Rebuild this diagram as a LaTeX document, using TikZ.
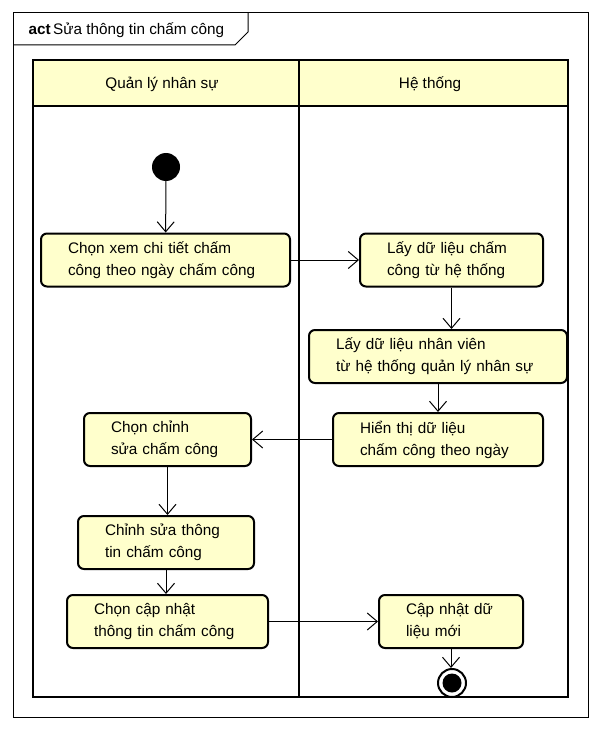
\documentclass[tikz,border=0pt]{standalone}
\usepackage{fontspec}
\setmainfont{Liberation Sans}
\usetikzlibrary{arrows.meta}

\definecolor{actfill}{RGB}{255,255,204}

\tikzset{
  action/.style={draw, line width=2pt, rounded corners=6pt, fill=actfill,
    align=left, inner xsep=27pt, inner ysep=0pt, minimum height=53pt,
    font=\fontsize{15.3}{22}\selectfont},
  lanehead/.style={font=\fontsize{15.3}{18}\selectfont},
  flow/.style={line width=1pt, -{Straight Barb[length=10pt,width=17pt,line width=1pt]}}
}

\begin{document}
\begin{tikzpicture}[x=1pt,y=-1pt]
\useasboundingbox (0,0) rectangle (601,730);

% Frame with tab
\draw[line width=1pt] (13,13) rectangle (588,717);
\draw[line width=1pt] (13,45) -- (235,45) -- (248,32) -- (248,13);
\node[anchor=west, font=\fontsize{15.3}{18}\selectfont] (title) at (25,30)
  {\textbf{act}\,Sửa thông tin chấm công};

% Swimlanes
\fill[actfill] (33,60) rectangle (568,106);
\draw[line width=2.5pt] (33,60) rectangle (568,697);
\draw[line width=2.5pt] (33,106) -- (568,106);
\draw[line width=2.5pt] (299,60) -- (299,697);
\node[lanehead] (lane1) at (162,84) {Quản lý nhân sự};
\node[lanehead] (lane2) at (430,84) {Hệ thống};

% Start node
\node[circle, fill=black, minimum size=28pt, inner sep=0pt] (start) at (166,167) {};

% Actions
\node[action, text width=195pt] (chonxem) at (165.5,260)
  {Chọn xem chi tiết chấm\\công theo ngày chấm công};
\node[action, text width=129pt] (laycc) at (451.5,260)
  {Lấy dữ liệu chấm\\công từ hệ thống};
\node[action, text width=204pt] (laynv) at (438,356.5)
  {Lấy dữ liệu nhân viên\\từ hệ thống quản lý nhân sự};
\node[action, text width=156pt] (hienthi) at (438,439.5)
  {Hiển thị dữ liệu\\chấm công theo ngày};
\node[action, text width=113pt] (chonsua) at (167.5,439.5)
  {Chọn chỉnh\\sửa chấm công};
\node[action, text width=122pt] (suatt) at (166,542.5)
  {Chỉnh sửa thông\\tin chấm công};
\node[action, text width=147pt] (choncn) at (167.5,621.5)
  {Chọn cập nhật\\thông tin chấm công};
\node[action, text width=90pt] (capnhat) at (451,621.5)
  {Cập nhật dữ\\liệu mới};

% End node
\node[circle, draw, line width=2pt, fill=white, minimum size=28pt, inner sep=0pt] (end) at (452,683) {};
\fill (end.center) circle (9.5pt);

% Flows
\draw[flow] (start) -- (chonxem);
\draw[flow] (chonxem) -- (laycc);
\draw[flow] (laycc.south) -- (laycc.south |- laynv.north);
\draw[flow] (laynv.south) -- (laynv.south |- hienthi.north);
\draw[flow] (hienthi) -- (chonsua);
\draw[flow] (chonsua.south) -- (chonsua.south |- suatt.north);
\draw[flow] (suatt.south) -- (suatt.south |- choncn.north);
\draw[flow] (choncn) -- (capnhat);
\draw[flow] (capnhat.south) -- (capnhat.south |- end.north);

\end{tikzpicture}
\end{document}
